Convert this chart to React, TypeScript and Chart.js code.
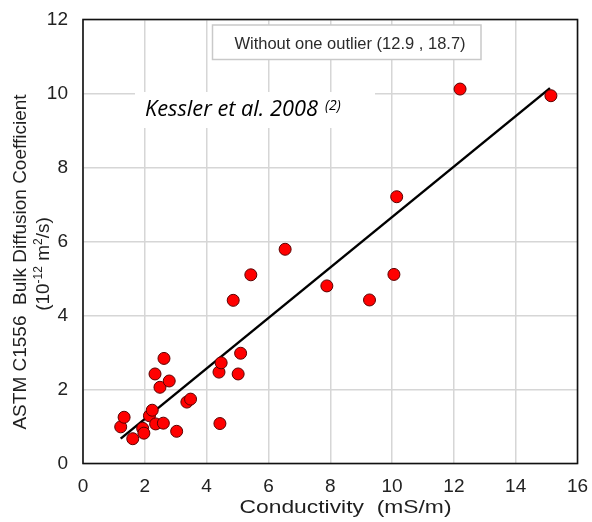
import { useEffect, useRef } from "react";
import { Chart, registerables } from "chart.js";

Chart.register(...registerables);

// Measured bulk diffusion coefficient vs. conductivity
const conductivity = [
  1.22, 1.33, 1.61, 1.93, 1.97, 2.15, 2.24, 2.35, 2.6, 2.33, 2.49, 2.62, 2.79, 3.03, 3.36,
  3.48, 4.43, 4.4, 4.47, 5.02, 5.1, 4.86, 5.43, 6.54, 7.89, 9.27, 10.06, 10.15, 12.2, 15.14,
];
const diffusion = [
  0.99, 1.25, 0.67, 0.95, 0.82, 1.29, 1.44, 1.07, 1.09, 2.42, 2.06, 2.84, 2.23, 0.87, 1.66,
  1.74, 1.08, 2.47, 2.72, 2.42, 2.98, 4.41, 5.1, 5.79, 4.8, 4.42, 5.11, 7.21, 10.12, 9.94,
];

// Linear fit (outlier excluded)
const fitSlope = 0.682;
const fitIntercept = -0.16;
const fitRange = [1.22, 15.11];

const xTicks = [0, 2, 4, 6, 8, 10, 12, 14, 16];
const yTicks = [0, 2, 4, 6, 8, 10, 12];

const xTitle = "Conductivity  (mS/m)";
const yTitleMain = "ASTM C1556  Bulk Diffusion Coefficient";
const noteText = "Without one outlier (12.9 , 18.7)";
const sourceText = "Kessler et al. 2008";
const sourceRef = "(2)";

const SANS = "Arial, 'Liberation Sans', sans-serif";

const decorPlugin = {
  id: "decor",
  beforeDatasetsDraw(chart: any) {
    const { ctx, chartArea } = chart;
    const { left, top } = chartArea;
    ctx.save();
    // note box
    ctx.fillStyle = "#ffffff";
    ctx.fillRect(left + 129.5, top + 5.5, 268.5, 34.5);
    ctx.strokeStyle = "#c9c9c9";
    ctx.lineWidth = 1.5;
    ctx.strokeRect(left + 129.5, top + 5.5, 268.5, 34.5);
    ctx.fillStyle = "#2b2b2b";
    ctx.font = `16.5px ${SANS}`;
    ctx.textAlign = "center";
    ctx.textBaseline = "alphabetic";
    ctx.fillText(noteText, left + 267, top + 29);

    // source label on white backing
    ctx.fillStyle = "#ffffff";
    ctx.fillRect(left + 52, top + 72.5, 240, 36);
    ctx.fillStyle = "#000000";
    ctx.textAlign = "left";
    let size = 18;
    ctx.font = `italic ${size}px 'Open Sans', sans-serif`;
    const w = ctx.measureText(sourceText).width;
    size = (size * 173) / w;
    ctx.font = `italic ${size}px 'Open Sans', sans-serif`;
    ctx.fillText(sourceText, left + 62, top + 96.5);
    ctx.font = `italic 14px 'Open Sans', sans-serif`;
    ctx.fillText(sourceRef, left + 242, top + 90);

    // plot frame
    ctx.strokeStyle = "#111111";
    ctx.lineWidth = 1.6;
    ctx.strokeRect(chartArea.left, chartArea.top, chartArea.right - chartArea.left, chartArea.bottom - chartArea.top);
    ctx.restore();
  },
  afterDraw(chart: any) {
    const { ctx } = chart;
    ctx.save();
    ctx.fillStyle = "#1f1f1f";
    ctx.textBaseline = "alphabetic";

    // x axis title, slightly widened
    ctx.font = `19px ${SANS}`;
    const xw = ctx.measureText(xTitle).width;
    const sx = 212 / xw;
    ctx.translate(345.5, 513);
    ctx.scale(sx, 1);
    ctx.textAlign = "center";
    ctx.fillText(xTitle, 0, 0);
    ctx.setTransform(1, 0, 0, 1, 0, 0);

    // y axis title, line 1
    ctx.translate(26, 262);
    ctx.rotate(-Math.PI / 2);
    ctx.font = `19px ${SANS}`;
    ctx.textAlign = "center";
    ctx.fillText(yTitleMain, 0, 0);
    ctx.setTransform(1, 0, 0, 1, 0, 0);

    // y axis title, line 2 with superscripts
    const parts: [string, number, number][] = [
      ["(10", 19, 0],
      ["-12", 12, -7.5],
      [" m", 19, 0],
      ["2", 12, -7.5],
      ["/s)", 19, 0],
    ];
    let total = 0;
    const widths = parts.map(([t, s]) => {
      ctx.font = `${s}px ${SANS}`;
      const m = ctx.measureText(t).width;
      total += m;
      return m;
    });
    ctx.translate(49, 264);
    ctx.rotate(-Math.PI / 2);
    ctx.textAlign = "left";
    let cx = -total / 2;
    parts.forEach(([t, s, dy], i) => {
      ctx.font = `${s}px ${SANS}`;
      ctx.fillText(t, cx, dy);
      cx += widths[i];
    });
    ctx.restore();
  },
};

export default function App() {
  const canvasRef = useRef<HTMLCanvasElement | null>(null);

  useEffect(() => {
    const canvas = canvasRef.current;
    if (!canvas) return;

    const points = conductivity.map((x, i) => ({ x, y: diffusion[i] }));
    const fitLine = fitRange.map((x) => ({ x, y: fitSlope * x + fitIntercept }));

    const chart = new Chart(canvas, {
      type: "scatter",
      data: {
        datasets: [
          {
            label: "Measured",
            data: points,
            backgroundColor: "#ff0000",
            borderColor: "#5a0000",
            borderWidth: 1,
            pointRadius: 6,
            order: 0,
          },
          {
            type: "line",
            label: "Fit",
            data: fitLine,
            borderColor: "#000000",
            borderWidth: 2.5,
            pointRadius: 0,
            showLine: true,
            fill: false,
            order: 1,
          } as any,
        ],
      },
      options: {
        responsive: false,
        animation: false,
        devicePixelRatio: 1,
        layout: { padding: { top: 19.5, right: 14.5, left: 0, bottom: 0 } },
        plugins: {
          legend: { display: false },
          tooltip: { enabled: false },
          title: { display: false },
        },
        scales: {
          x: {
            type: "linear",
            min: 0,
            max: 16,
            afterBuildTicks: (scale: any) => {
              scale.ticks = xTicks.map((v) => ({ value: v }));
            },
            afterFit: (scale: any) => {
              scale.height = 58.5;
              scale.paddingLeft = 0;
              scale.paddingRight = 0;
            },
            grid: { color: "#d6d6d6", lineWidth: 1.5, drawTicks: false },
            border: { display: false },
            ticks: {
              color: "#222222",
              font: { family: SANS, size: 19 },
              padding: 12,
              maxRotation: 0,
            },
          },
          y: {
            type: "linear",
            min: 0,
            max: 12,
            afterBuildTicks: (scale: any) => {
              scale.ticks = yTicks.map((v) => ({ value: v }));
            },
            afterFit: (scale: any) => {
              scale.width = 83;
              scale.paddingTop = 0;
              scale.paddingBottom = 0;
            },
            grid: { color: "#d6d6d6", lineWidth: 1.5, drawTicks: false },
            border: { display: false },
            ticks: {
              color: "#222222",
              font: { family: SANS, size: 19 },
              padding: 15,
            },
          },
        },
      },
      plugins: [decorPlugin],
    });

    return () => chart.destroy();
  }, []);

  return (
    <div style={{ position: "absolute", left: 0, top: 0, width: 592, height: 522, background: "#ffffff" }}>
      <canvas ref={canvasRef} width={592} height={522} style={{ width: 592, height: 522, display: "block" }} />
    </div>
  );
}
